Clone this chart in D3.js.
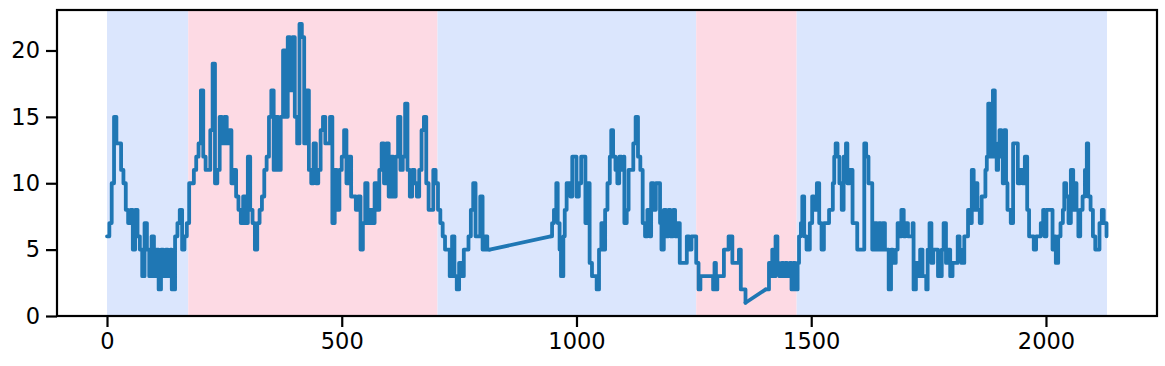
<!DOCTYPE html>
<html>
<head>
<meta charset="utf-8">
<script src="https://cdn.jsdelivr.net/npm/d3@7"></script>
<style>
  html, body { margin: 0; padding: 0; background: #fff; }
  #chart text { font-family: "DejaVu Sans", sans-serif; }
</style>
</head>
<body>
<div id="chart"></div>
<script>
// sample positions and values
const timeIdx = [
  0, 5, 10, 15, 18, 20, 25, 30, 35, 40, 45, 50, 55, 60, 65, 70, 75, 80, 85, 90, 95, 100, 105, 110, 115, 120, 125, 130, 135, 138,
  145, 150, 155, 160, 165, 170, 175, 180, 185, 190, 195, 200, 205, 210, 215, 220, 225, 230, 235, 240, 245, 250, 255, 260, 265, 270,
  275, 280, 285, 290, 295, 300, 305, 310, 315, 320, 325, 330, 335, 340, 345, 350, 355, 360, 365, 370, 375, 380, 385, 390, 395, 400,
  405, 410, 415, 420, 425, 430, 435, 440, 445, 450, 455, 460, 465, 470, 475, 480, 485, 490, 495, 500, 505, 510, 515, 520, 525, 530,
  535, 540, 545, 550, 555, 560, 565, 570, 575, 580, 585, 590, 595, 600, 605, 610, 615, 620, 625, 630, 635, 640, 645, 650, 655, 660,
  665, 670, 675, 680, 685, 690, 695, 700, 705, 710, 715, 720, 725, 730, 735, 740, 745, 750, 755, 760, 765, 770, 775, 780, 785, 790,
  795, 800, 805, 810, 815,
  945, 948, 952, 957, 960, 964, 967, 972, 975, 979, 984, 987, 991, 996, 1000, 1005, 1010, 1014, 1019, 1024, 1028, 1033, 1038, 1043,
  1048, 1053, 1057, 1061, 1066, 1071, 1074, 1078, 1083, 1087, 1091, 1096, 1100, 1102, 1107, 1111, 1116, 1121, 1126, 1131, 1136, 1141,
  1146, 1151, 1156, 1159, 1164, 1169, 1173, 1178, 1181, 1186, 1191, 1196, 1200, 1206, 1210, 1215, 1220, 1225, 1230, 1235, 1240, 1245,
  1250, 1255, 1260, 1264, 1279, 1289, 1291, 1294, 1297, 1300, 1311, 1314, 1320, 1324, 1328, 1332, 1337, 1341, 1346, 1350, 1360,
  1403, 1407, 1410, 1414, 1417, 1419, 1424, 1428, 1432, 1437, 1441, 1445, 1449, 1454, 1458, 1462, 1466, 1471, 1474, 1478, 1481, 1485,
  1490, 1497, 1502, 1506, 1512, 1517, 1522, 1527, 1533, 1538, 1543, 1546, 1549, 1552, 1556, 1560, 1565, 1569, 1574, 1577, 1582, 1588,
  1593, 1598, 1604, 1609, 1613, 1617, 1622, 1627, 1630, 1634, 1640, 1644, 1648, 1652, 1657, 1661, 1665, 1670, 1674, 1680, 1684, 1688,
  1692, 1697, 1701, 1706, 1711, 1716, 1718, 1723, 1728, 1732, 1737, 1742, 1745, 1748, 1752, 1756, 1760, 1765, 1770, 1775, 1778, 1782,
  1787, 1791, 1796, 1801, 1806, 1812, 1816, 1820, 1826, 1831, 1834, 1838, 1842, 1846, 1849, 1854, 1859, 1863, 1867, 1871, 1874, 1877,
  1881, 1887, 1891, 1895, 1898, 1901, 1905, 1908, 1911, 1915, 1918, 1922, 1925, 1930, 1935, 1940, 1945, 1950, 1955, 1960, 1964, 1969,
  1974, 1979, 1984, 1989, 1994, 1997, 2001, 2007, 2011, 2014, 2018, 2021, 2026, 2031, 2036, 2039, 2043, 2048, 2053, 2058, 2061, 2065,
  2069, 2073, 2078, 2083, 2087, 2090, 2095, 2100, 2105, 2110, 2114, 2119, 2123, 2129,
];

const counts = [
  6, 7, 10, 15, 15, 13, 13, 11, 10, 8, 7, 8, 5, 8, 6, 5, 3, 7, 5, 3, 6, 3, 5, 2, 5, 3, 5, 3, 5, 2,
  6, 7, 8, 5, 6, 7, 10, 10, 11, 12, 13, 17, 12, 11, 11, 14, 19, 10, 11, 15, 13, 15, 13, 14, 10, 11,
  9, 8, 7, 9, 7, 12, 8, 7, 5, 7, 8, 9, 11, 12, 15, 17, 11, 15, 11, 15, 20, 15, 21, 17, 21, 15,
  13, 22, 21, 13, 17, 11, 10, 13, 10, 11, 14, 15, 13, 13, 15, 7, 11, 8, 11, 12, 14, 10, 12, 9, 9, 8,
  9, 5, 7, 10, 7, 8, 7, 10, 8, 11, 13, 10, 13, 9, 12, 9, 12, 15, 11, 12, 16, 11, 9, 11, 10, 9,
  11, 14, 15, 10, 8, 8, 11, 10, 8, 7, 6, 5, 5, 3, 6, 3, 2, 4, 3, 5, 5, 6, 8, 10, 6, 6,
  9, 5, 6, 5, 5,
  6, 7, 8, 10, 7, 5, 3, 6, 8, 10, 10, 9, 12, 12, 9, 10, 12, 12, 7, 10, 4, 3, 3, 2,
  5, 7, 5, 8, 10, 12, 14, 12, 11, 10, 12, 11, 12, 7, 8, 11, 11, 13, 15, 12, 11, 7,
  6, 8, 6, 10, 8, 10, 10, 7, 5, 8, 6, 8, 6, 8, 6, 7, 4, 4, 4, 6, 5, 6,
  6, 4, 2, 3, 3, 3, 2, 4, 2, 3, 3, 5, 5, 6, 6, 4, 4, 4, 5, 2, 1,
  2, 2, 4, 3, 5, 3, 6, 4, 3, 4, 3, 4, 3, 4, 2, 4, 2, 4, 6, 7, 9, 6,
  5, 7, 9, 8, 10, 7, 5, 7, 7, 8, 8, 10, 12, 13, 12, 10, 8, 12, 13, 10, 11, 7,
  7, 5, 5, 5, 13, 12, 10, 10, 5, 7, 5, 7, 5, 7, 5, 5, 2, 5, 4, 5, 7, 6,
  8, 6, 7, 6, 6, 7, 2, 4, 3, 5, 3, 3, 2, 5, 7, 4, 5, 5, 3, 3, 5, 7,
  4, 5, 3, 4, 4, 6, 5, 4, 6, 6, 8, 7, 11, 8, 10, 8, 7, 9, 9, 11, 12, 16,
  12, 17, 12, 11, 13, 14, 12, 10, 14, 10, 8, 8, 7, 13, 13, 10, 11, 10, 12, 8, 6, 6,
  5, 6, 6, 7, 8, 6, 8, 8, 8, 5, 6, 4, 6, 7, 8, 10, 9, 7, 11, 8, 10, 8,
  6, 8, 9, 11, 13, 9, 8, 6, 5, 5, 7, 8, 7, 6,
];

// shaded phases
const phaseStart = [0, 173, 704, 1255, 1469];
const phaseEnd = [173, 704, 1255, 1469, 2130];
const phaseKind = ['low', 'high', 'low', 'high', 'low'];

const xTicks = [0, 500, 1000, 1500, 2000];
const yTicks = [0, 5, 10, 15, 20];

const phaseColor = {low: '#dbe6fd', high: '#fddae4'};

const W = 1165;
const H = 366;
const margin = {top: 10, right: 8, bottom: 50, left: 57};
const width = W - margin.left - margin.right;
const height = H - margin.top - margin.bottom;

const data = timeIdx.map((t, i) => ({t, v: counts[i]}));

// split into runs where samples are missing; the gaps are bridged by straight lines
const runs = [[data[0]]];
const bridges = [];
for (let i = 1; i < data.length; i += 1) {
  if (data[i].t - data[i - 1].t > 20) {
    bridges.push([data[i - 1], data[i]]);
    runs.push([]);
  }
  runs[runs.length - 1].push(data[i]);
}

const x = d3.scaleLinear().domain([-106.5, 2236.5]).range([0, width]);
const y = d3.scaleLinear().domain([0, 23.05]).range([height, 0]);

const svg = d3
  .select('#chart')
  .append('svg')
  .attr('width', W)
  .attr('height', H)
  .append('g')
  .attr('transform', `translate(${margin.left},${margin.top})`);

svg
  .selectAll('rect.phase')
  .data(phaseStart.map((s, i) => ({s, e: phaseEnd[i], k: phaseKind[i]})))
  .join('rect')
  .attr('class', 'phase')
  .attr('x', d => x(d.s))
  .attr('width', d => x(d.e) - x(d.s))
  .attr('y', 0)
  .attr('height', height)
  .attr('fill', d => phaseColor[d.k]);

const stepLine = d3
  .line()
  .curve(d3.curveStepAfter)
  .x(d => x(d.t))
  .y(d => y(d.v));

const straight = d3
  .line()
  .x(d => x(d.t))
  .y(d => y(d.v));

const lineStyle = sel =>
  sel
    .attr('fill', 'none')
    .attr('stroke', '#1f77b4')
    .attr('stroke-width', 3.8)
    .attr('stroke-linejoin', 'round')
    .attr('stroke-linecap', 'round');

svg.selectAll('path.run').data(runs).join('path').attr('class', 'run').attr('d', stepLine).call(lineStyle);
svg.selectAll('path.bridge').data(bridges).join('path').attr('class', 'bridge').attr('d', straight).call(lineStyle);

// frame
svg
  .append('rect')
  .attr('x', 0)
  .attr('y', 0)
  .attr('width', width)
  .attr('height', height)
  .attr('fill', 'none')
  .attr('stroke', '#000')
  .attr('stroke-width', 2.2);

const xAxis = d3.axisBottom(x).tickValues(xTicks).tickSize(11).tickPadding(6).tickFormat(d3.format('d'));
const yAxis = d3.axisLeft(y).tickValues(yTicks).tickSize(11).tickPadding(6).tickFormat(d3.format('d'));

const gx = svg.append('g').attr('transform', `translate(0,${height})`).call(xAxis);
const gy = svg.append('g').call(yAxis);

[gx, gy].forEach(g => {
  g.select('.domain').remove();
  g.selectAll('.tick line').attr('stroke', '#000').attr('stroke-width', 2.2);
  g.selectAll('.tick text').attr('fill', '#000').style('font-size', '22.5px');
});
</script>
</body>
</html>
